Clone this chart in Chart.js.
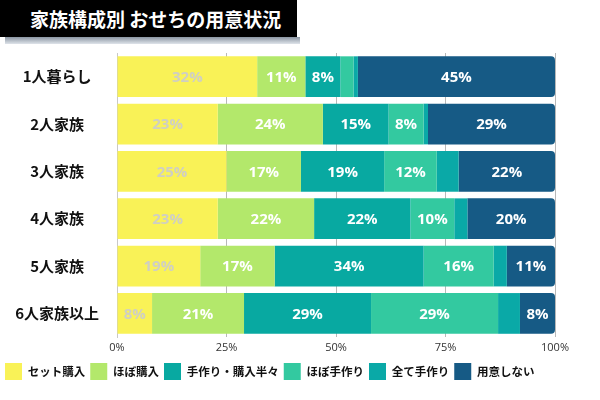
<!DOCTYPE html>
<html lang="ja">
<head>
<meta charset="utf-8">
<script src="https://cdn.jsdelivr.net/npm/chart.js@4"></script>
<style>
  html, body { margin: 0; padding: 0; background: #fff; }
  #wrap { position: relative; width: 600px; height: 400px; }
  #title {
    position: absolute; left: 0; top: 0; width: 267px; height: 37px;
    padding-left: 30px; background: #000; color: #fff;
    font: bold 19px "Noto Sans CJK JP", sans-serif; line-height: 37px;
    z-index: 2;
  }
  #shadow {
    position: absolute; left: 5px; top: 37px; width: 295px; height: 7px;
    background: linear-gradient(#8a95a2, #dfe4ea); z-index: 1;
  }
  canvas { position: absolute; left: 0; top: 0; }
</style>
</head>
<body>
<div id="wrap">
  <div id="title">家族構成別 おせちの用意状況</div>
  <div id="shadow"></div>
  <canvas id="chart" width="600" height="400"></canvas>
</div>
<script>
// カテゴリ
const categories = ["1人暮らし", "2人家族", "3人家族", "4人家族", "5人家族", "6人家族以上"];

// 系列 (%)
const setBuy     = [32, 23, 25, 23, 19, 8];
const mostlyBuy  = [11, 24, 17, 22, 17, 21];
const halfHalf   = [8, 15, 19, 22, 34, 29];
const mostlyMake = [3, 8, 12, 10, 16, 29];
const allMake    = [1, 1, 5, 3, 3, 5];
const noPrep     = [45, 29, 22, 20, 11, 8];

const xTicks = [0, 25, 50, 75, 100];

const seriesNames = ["セット購入", "ほぼ購入", "手作り・購入半々", "ほぼ手作り", "全て手作り", "用意しない"];
const seriesColors = ["#f9f257", "#b3e86b", "#08a9a1", "#33c9a0", "#0aa9a7", "#165a85"];
const seriesData = [setBuy, mostlyBuy, halfHalf, mostlyMake, allMake, noPrep];

// 区間ラベル
const segLabels = {
  id: "segLabels",
  afterDatasetsDraw(chart) {
    const ctx = chart.ctx;
    ctx.save();
    ctx.font = "bold 15px 'Open Sans', sans-serif";
    ctx.textAlign = "center";
    ctx.textBaseline = "middle";
    chart.data.datasets.forEach((ds, i) => {
      const meta = chart.getDatasetMeta(i);
      meta.data.forEach((bar, j) => {
        const v = ds.data[j];
        if (v < 6) return;
        const p = bar.getProps(["x", "base", "y"], true);
        ctx.fillStyle = i === 0 ? "#cfcfc3" : "#ffffff";
        ctx.fillText(v + "%", (p.x + p.base) / 2, p.y + 1);
      });
    });
    ctx.restore();
  }
};

const datasets = seriesData.map((d, i) => ({
  label: seriesNames[i],
  data: d,
  backgroundColor: seriesColors[i],
  borderWidth: 0,
  borderRadius: i === 5 ? { topRight: 4, bottomRight: 4 } : 0,
  borderSkipped: false,
  barPercentage: 0.86,
  categoryPercentage: 1
}));

new Chart(document.getElementById("chart"), {
  type: "bar",
  data: { labels: categories, datasets },
  plugins: [segLabels],
  options: {
    indexAxis: "y",
    responsive: false,
    animation: false,
    layout: { padding: { top: 53, left: 0, right: 0, bottom: 10 } },
    plugins: {
      title: { display: false },
      tooltip: { enabled: false },
      legend: {
        position: "bottom",
        align: "start",
        labels: {
          boxWidth: 17,
          boxHeight: 17,
          padding: 5,
          color: "#111",
          font: { family: "'Noto Sans CJK JP'", size: 11.5, weight: "bold" }
        }
      }
    },
    scales: {
      x: {
        stacked: true,
        min: 0,
        max: 100,
        afterBuildTicks: (axis) => { axis.ticks = xTicks.map(v => ({ value: v })); },
        ticks: {
          callback: (v) => v + "%",
          color: "#333",
          padding: 0,
          font: { family: "'Open Sans'", size: 11, lineHeight: 1.9 }
        },
        grid: { color: "#b8b8b8", drawTicks: false },
        border: { display: false }
      },
      y: {
        stacked: true,
        afterFit: (s) => { s.width = 117; },
        ticks: {
          crossAlign: "center",
          color: "#111",
          padding: 10,
          font: { family: "'Noto Sans CJK JP'", size: 15, weight: "bold" }
        },
        grid: { display: false },
        border: { display: true, color: "#c8c8c8" }
      },
      yRight: {
        type: "category",
        position: "right",
        afterFit: (s) => { s.width = 45; },
        ticks: { display: false },
        grid: { display: false },
        border: { display: false }
      }
    }
  }
});
</script>
</body>
</html>
